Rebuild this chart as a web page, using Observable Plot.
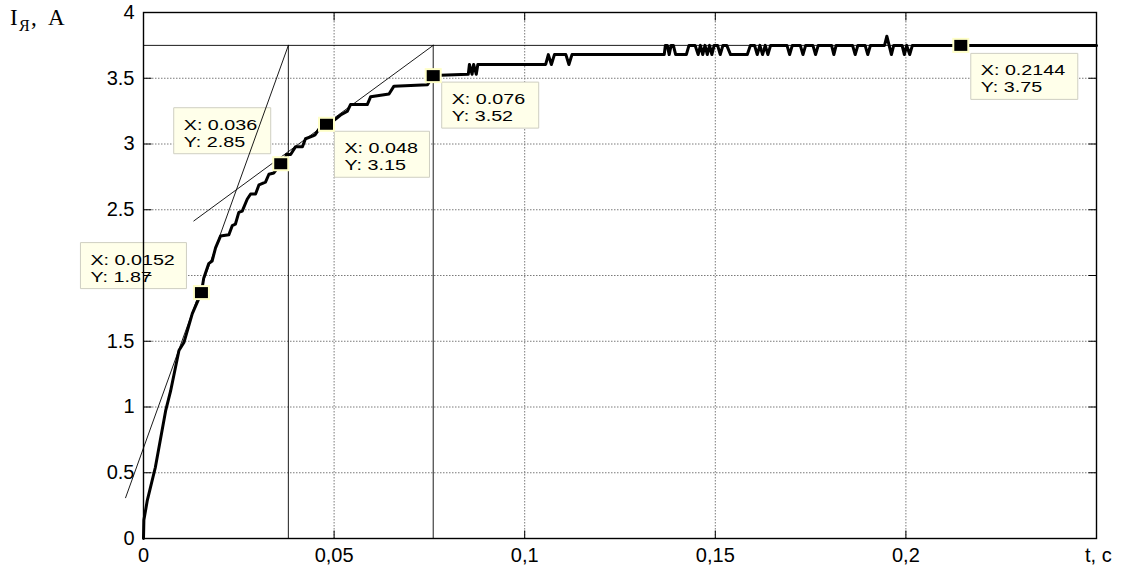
<!DOCTYPE html>
<html><head><meta charset="utf-8">
<script src="https://cdn.jsdelivr.net/npm/d3@7"></script>
<script src="https://cdn.jsdelivr.net/npm/@observablehq/plot@0.6"></script>
<style>html,body{margin:0;padding:0;background:#fff;} #chart{width:1121px;height:565px;}</style>
</head><body><div id="chart"></div>
<script>
// ---------- data ----------
const xDomain = [0, 0.25];
const yDomain = [0, 4];
const xTickValues = [0, 0.05, 0.1, 0.15, 0.2];
const xTickLabels = ["0", "0,05", "0,1", "0,15", "0,2"];
const yTickValues = [0, 0.5, 1, 1.5, 2, 2.5, 3, 3.5, 4];
const yTickLabels = ["0", "0.5", "1", "1.5", "2", "2.5", "3", "3.5", "4"];
const xGrid = [0.05, 0.1, 0.15, 0.2];
const yGrid = [0.5, 1, 1.5, 2, 2.5, 3, 3.5];

const curveT = [0, 0.0001, 0.001, 0.0031, 0.0058, 0.0071, 0.0093, 0.0106, 0.0128, 0.0152,
  0.0158, 0.0171, 0.0180, 0.0189, 0.0202, 0.0224, 0.0233, 0.0241, 0.0250, 0.0259,
  0.0272, 0.0281, 0.0294, 0.0303, 0.0320, 0.0329, 0.0342, 0.0360, 0.0368, 0.0375,
  0.0386, 0.0399, 0.0417, 0.0425, 0.0443, 0.0450, 0.0462, 0.0480, 0.0490, 0.0504,
  0.0517, 0.0535, 0.0543, 0.0587, 0.0596, 0.0644, 0.0657, 0.0745, 0.0760, 0.0852,
  0.0855, 0.0862, 0.0866, 0.0873, 0.0877, 0.1055, 0.1062, 0.1070, 0.1078, 0.1108,
  0.1116, 0.1124, 0.1366, 0.1369, 0.1374, 0.1379, 0.1384, 0.1390, 0.1396, 0.1424,
  0.1431, 0.1447, 0.1455, 0.1461, 0.1467, 0.1473, 0.1479, 0.1485, 0.1491, 0.1497,
  0.1506, 0.1513, 0.1520, 0.1530, 0.1540, 0.1584, 0.1592, 0.1603, 0.1610, 0.1617,
  0.1624, 0.1631, 0.1638, 0.1645, 0.1688, 0.1695, 0.1702, 0.1723, 0.1730, 0.1737,
  0.1756, 0.1763, 0.1770, 0.1805, 0.1811, 0.1817, 0.1860, 0.1867, 0.1874, 0.1893,
  0.1900, 0.1907, 0.1944, 0.1950, 0.1956, 0.1962, 0.1968, 0.1990, 0.1996, 0.2002,
  0.2010, 0.2017, 0.2500];
const curveI = [0, 0.14, 0.29, 0.54, 0.97, 1.12, 1.43, 1.49, 1.71, 1.87,
  1.98, 2.09, 2.11, 2.21, 2.30, 2.31, 2.38, 2.39, 2.48, 2.49,
  2.58, 2.62, 2.62, 2.69, 2.71, 2.77, 2.78, 2.85, 2.86, 2.92,
  2.92, 2.98, 2.98, 3.04, 3.06, 3.07, 3.12, 3.15, 3.16, 3.19,
  3.22, 3.25, 3.30, 3.30, 3.36, 3.38, 3.44, 3.45, 3.52, 3.53,
  3.605, 3.53, 3.605, 3.53, 3.605, 3.605, 3.68, 3.605, 3.68, 3.68,
  3.605, 3.68, 3.68, 3.75, 3.75, 3.68, 3.75, 3.75, 3.68, 3.68,
  3.75, 3.75, 3.68, 3.75, 3.68, 3.75, 3.68, 3.75, 3.68, 3.75,
  3.75, 3.68, 3.75, 3.75, 3.68, 3.68, 3.75, 3.75, 3.68, 3.75,
  3.68, 3.75, 3.68, 3.75, 3.75, 3.68, 3.75, 3.75, 3.68, 3.75,
  3.75, 3.68, 3.75, 3.75, 3.68, 3.75, 3.75, 3.68, 3.75, 3.75,
  3.68, 3.75, 3.75, 3.82, 3.75, 3.68, 3.75, 3.75, 3.68, 3.75,
  3.68, 3.75, 3.75];

const steadyI = 3.75;
const verticalT = [0.038, 0.076];
const tangent1T = [-0.0047, 0.038];
const tangent1I = [0.31, 3.75];
const tangent2T = [0.0132, 0.076];
const tangent2I = [2.415, 3.75];

const tipX = [0.0152, 0.036, 0.048, 0.076, 0.2144];
const tipY = [1.87, 2.85, 3.15, 3.52, 3.75];

// ---------- layout (pixels, relative to marker) ----------
const tipLayout = [
  {dx: -121, dy: -50, w: 106},
  {dx: -107, dy: -56, w: 97},
  {dx: 8, dy: 7, w: 95},
  {dx: 8.5, dy: 6.5, w: 97},
  {dx: 10, dy: 8, w: 107}
];
const boxH = 46;
const tipStretch = 1.36;

const curve = curveT.map((t, k) => ({t, i: curveI[k]}));
const tan1 = tangent1T.map((t, k) => ({t, i: tangent1I[k]}));
const tan2 = tangent2T.map((t, k) => ({t, i: tangent2I[k]}));
const tips = tipX.map((x, k) => ({x, y: tipY[k], label: `X: ${x}\nY: ${tipY[k]}`}));

const rectSym = (x, y, w, h) => ({draw(ctx) { ctx.rect(x, y, w, h); }});
const lineSym = (x2, y2) => ({draw(ctx) { ctx.moveTo(0, 0); ctx.lineTo(x2, y2); }});
const TL = 8;

const sans = "'Liberation Sans', Arial, sans-serif";

const marks = [
  Plot.ruleX(xGrid, {stroke: "#7a7a7a", strokeWidth: 1, strokeDasharray: "1.5,1.5"}),
  Plot.ruleY(yGrid, {stroke: "#7a7a7a", strokeWidth: 1, strokeDasharray: "1.5,1.5"}),
  ...tips.map((d, k) => Plot.dot([d], {x: "x", y: "y",
    symbol: rectSym(tipLayout[k].dx, tipLayout[k].dy, tipLayout[k].w, boxH),
    fill: "#ffffea", stroke: "#cfcfc2", strokeWidth: 1})),
  Plot.ruleY([steadyI], {stroke: "black", strokeWidth: 0.9}),
  Plot.ruleX(verticalT, {y1: yDomain[0], y2: steadyI, stroke: "black", strokeWidth: 0.9}),
  Plot.line(tan1, {x: "t", y: "i", stroke: "black", strokeWidth: 0.9}),
  Plot.line(tan2, {x: "t", y: "i", stroke: "black", strokeWidth: 0.9}),
  Plot.line(curve, {x: "t", y: "i", stroke: "black", strokeWidth: 3, strokeLinejoin: "round"}),
  Plot.frame({stroke: "black", strokeWidth: 1.4}),
  Plot.dot(yTickValues, {x: xDomain[0], y: d => d, symbol: lineSym(TL, 0), fill: "none", stroke: "black", strokeWidth: 1}),
  Plot.dot(yTickValues, {x: xDomain[1], y: d => d, symbol: lineSym(-TL, 0), fill: "none", stroke: "black", strokeWidth: 1}),
  Plot.dot(xTickValues, {x: d => d, y: yDomain[0], symbol: lineSym(0, -TL), fill: "none", stroke: "black", strokeWidth: 1}),
  Plot.dot(xTickValues, {x: d => d, y: yDomain[1], symbol: lineSym(0, TL), fill: "none", stroke: "black", strokeWidth: 1}),
  Plot.dot(tips, {x: "x", y: "y", symbol: rectSym(-8.5, -7.5, 17, 15), fill: "#ffffc8", stroke: "none"}),
  Plot.dot(tips, {x: "x", y: "y", symbol: rectSym(-6.5, -5.5, 13, 11), fill: "black", stroke: "none"}),
  ...tips.map((d, k) => Plot.text([d], {x: "x", y: "y", text: "label",
    dx: tipLayout[k].dx + 10, dy: tipLayout[k].dy + 10,
    textAnchor: "start", lineAnchor: "top", lineHeight: 1.17,
    fontSize: 14.5, fontFamily: sans, fill: "black"}))
];

const svg = Plot.plot({
  width: 1121, height: 565,
  marginLeft: 143, marginRight: 25, marginTop: 12, marginBottom: 27,
  x: {domain: xDomain, ticks: xTickValues, tickFormat: d => xTickLabels[xTickValues.indexOf(d)], tickSize: 0, tickPadding: 9, label: null},
  y: {domain: yDomain, ticks: yTickValues, tickFormat: d => yTickLabels[yTickValues.indexOf(d)], tickSize: 0, tickPadding: 9, label: null},
  style: {fontFamily: sans, fontSize: "20px", background: "white", color: "black"},
  marks
});
document.getElementById("chart").appendChild(svg);

// stretch data-tip text horizontally (as in the reference)
svg.querySelectorAll("text").forEach(t => {
  if (!t.textContent.startsWith("X:")) return;
  const tr = t.getAttribute("transform");
  if (tr && tr.includes("translate")) {
    t.setAttribute("transform", tr + ` scale(${tipStretch},1)`);
  } else {
    const x = +t.getAttribute("x") || 0, y = +t.getAttribute("y") || 0;
    t.setAttribute("x", 0); t.setAttribute("y", 0);
    t.querySelectorAll("tspan").forEach(s => { if (s.hasAttribute("x")) s.setAttribute("x", 0); });
    t.setAttribute("transform", `translate(${x},${y}) scale(${tipStretch},1)`);
  }
});

// axis titles
const s = d3.select(svg);
const yt = s.append("text").attr("fill", "black").attr("font-family", "'Liberation Serif','Times New Roman',serif").attr("text-anchor", "start");
yt.append("tspan").attr("x", 10).attr("y", 25).attr("font-size", 23).text("I");
yt.append("tspan").attr("x", 19).attr("y", 31).attr("font-size", 16).text("Я");
yt.append("tspan").attr("x", 31).attr("y", 25).attr("font-size", 23).text(", ");
yt.append("tspan").attr("x", 48).attr("y", 25).attr("font-size", 23).text("A");
s.append("text").attr("x", 1085).attr("y", 562).attr("fill", "black").attr("font-family", sans).attr("font-size", 20).attr("text-anchor", "start").text("t, c");
</script></body></html>
